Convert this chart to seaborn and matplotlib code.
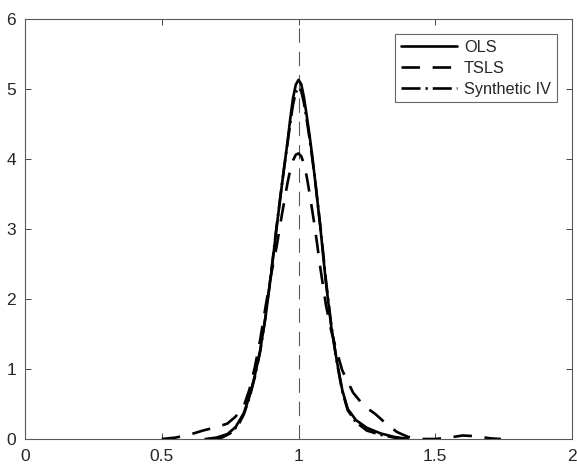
import matplotlib
matplotlib.use("Agg")
import numpy as np
import pandas as pd
import matplotlib.pyplot as plt
import seaborn as sns

# density estimates
ols_x = [0.66, 0.70, 0.74, 0.77, 0.80, 0.82, 0.84, 0.86, 0.88, 0.90, 0.92, 0.94, 0.95, 0.96, 0.97,
         0.98, 0.99, 1.00, 1.01, 1.02, 1.03, 1.04, 1.05, 1.06, 1.08, 1.10, 1.12, 1.14, 1.16, 1.18,
         1.21, 1.25, 1.30, 1.35, 1.40]
ols_y = [0.00, 0.02, 0.07, 0.17, 0.37, 0.60, 0.90, 1.27, 1.76, 2.36, 3.02, 3.65, 3.95, 4.25, 4.58,
         4.87, 5.06, 5.13, 5.07, 4.88, 4.62, 4.35, 4.05, 3.72, 3.02, 2.24, 1.60, 1.12, 0.70, 0.43,
         0.27, 0.16, 0.08, 0.03, 0.00]

tsls_x = [0.50, 0.55, 0.60, 0.65, 0.70, 0.74, 0.77, 0.80, 0.82, 0.84, 0.86, 0.88, 0.90, 0.92, 0.94,
          0.96, 0.97, 0.98, 0.99, 1.00, 1.01, 1.02, 1.03, 1.04, 1.06, 1.08, 1.10, 1.12, 1.14, 1.16,
          1.20, 1.24, 1.28, 1.32, 1.36, 1.40, 1.45, 1.50, 1.55, 1.60, 1.65, 1.70, 1.74]
tsls_y = [0.00, 0.02, 0.06, 0.12, 0.17, 0.22, 0.32, 0.47, 0.70, 1.02, 1.42, 1.90, 2.35, 2.75, 3.22,
          3.66, 3.85, 3.98, 4.06, 4.08, 4.04, 3.93, 3.75, 3.52, 3.02, 2.44, 1.92, 1.54, 1.25, 0.98,
          0.66, 0.47, 0.36, 0.22, 0.10, 0.03, 0.00, 0.00, 0.02, 0.05, 0.04, 0.01, 0.00]

siv_x = [0.69, 0.72, 0.75, 0.78, 0.80, 0.82, 0.84, 0.86, 0.88, 0.90, 0.92, 0.94, 0.95, 0.96, 0.97,
         0.98, 0.99, 1.00, 1.01, 1.02, 1.03, 1.04, 1.05, 1.06, 1.08, 1.10, 1.12, 1.14, 1.16, 1.18,
         1.21, 1.25, 1.30, 1.35, 1.40]
siv_y = [0.00, 0.02, 0.08, 0.20, 0.35, 0.58, 0.88, 1.25, 1.76, 2.38, 3.04, 3.66, 3.95, 4.23, 4.52,
         4.78, 4.95, 5.02, 4.97, 4.80, 4.56, 4.30, 4.02, 3.72, 3.04, 2.28, 1.62, 1.10, 0.68, 0.41,
         0.24, 0.12, 0.06, 0.02, 0.00]

true_value = 1.0
x_ticks = [0, 0.5, 1, 1.5, 2]
x_ticklabels = ['0', '0.5', '1', '1.5', '2']
y_ticks = [0, 1, 2, 3, 4, 5, 6]

sns.set_style("ticks")
plt.rcParams['font.family'] = ['Liberation Sans', 'DejaVu Sans']

fig = plt.figure(figsize=(5.77, 4.70), dpi=100)
ax = fig.add_axes([25/577, 1-439/470, 547/577, 420/470])

ax.axvline(true_value, color='0.35', lw=0.8, linestyle=(0, (13, 8)), zorder=1)

sns.lineplot(x=ols_x, y=ols_y, ax=ax, color='black', lw=1.9, estimator=None,
             label='OLS', linestyle='-')
sns.lineplot(x=tsls_x, y=tsls_y, ax=ax, color='black', lw=1.9, estimator=None,
             label='TSLS', linestyle=(0, (7, 4.8)))
sns.lineplot(x=siv_x, y=siv_y, ax=ax, color='black', lw=1.9, estimator=None,
             label='Synthetic IV', linestyle=(0, (7.2, 1.9, 0.85, 1.9)))

ax.set_xlim(0, 2)
ax.set_ylim(0, 6)
ax.set_xticks(x_ticks)
ax.set_xticklabels(x_ticklabels)
ax.set_yticks(y_ticks)
ax.tick_params(direction='in', length=4, width=0.6, colors='0.15', labelsize=12.5,
               top=True, right=True)
ax.tick_params(axis='x', pad=7.5)
ax.tick_params(axis='y', pad=6.5)
for s in ax.spines.values():
    s.set_color('0.35')
    s.set_linewidth(0.8)

leg = ax.legend(loc='upper right', bbox_to_anchor=(0.972, 0.964), fontsize=11.7,
                handlelength=3.45, fancybox=False, framealpha=1, edgecolor='0.4',
                borderpad=0.35, labelspacing=0.36, handletextpad=0.43, borderaxespad=0)
leg.get_frame().set_linewidth(0.8)

fig.savefig('out.png', dpi=100)
